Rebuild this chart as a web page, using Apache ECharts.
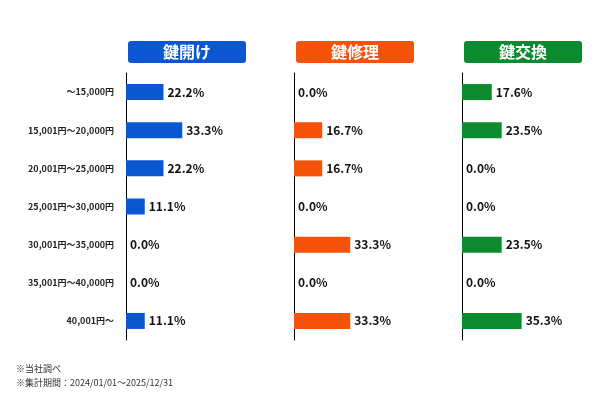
<!DOCTYPE html>
<html>
<head>
<meta charset="utf-8">
<script src="https://cdn.jsdelivr.net/npm/echarts@6/dist/echarts.min.js"></script>
<style>html,body{margin:0;padding:0;background:#fff}#c{width:600px;height:400px}</style>
</head>
<body>
<div id="c"></div>
<script>
var categories = ['～15,000円','15,001円～20,000円','20,001円～25,000円','25,001円～30,000円','30,001円～35,000円','35,001円～40,000円','40,001円～'];
var panelNames = ['鍵開け','鍵修理','鍵交換'];
var kaigiValues = [22.2, 33.3, 22.2, 11.1, 0.0, 0.0, 11.1];
var shuriValues = [0.0, 16.7, 16.7, 0.0, 33.3, 0.0, 33.3];
var koukanValues = [17.6, 23.5, 0.0, 0.0, 23.5, 0.0, 35.3];
var footnotes = ['※当社調べ', '※集計期間：2024/01/01～2025/12/31'];

var seriesValues = [kaigiValues, shuriValues, koukanValues];
var colors = ['#0b57d0', '#f5520c', '#0b8a2f'];
var FONT = '"Noto Sans CJK JP", "Noto Sans", sans-serif';
var lefts = [126, 294, 462];

var chart = echarts.init(document.getElementById('c'), null, {renderer: 'canvas'});
var grids = [], xAxes = [], yAxes = [], series = [], graphics = [];
for (var i = 0; i < 3; i++) {
  grids.push({left: lefts[i], top: 73, width: 100, height: 267, containLabel: false});
  xAxes.push({type: 'value', gridIndex: i, min: 0, max: 59.2, show: false});
  yAxes.push({
    type: 'category', gridIndex: i, data: categories, inverse: true,
    axisLine: {show: true, lineStyle: {color: '#000', width: 1}},
    axisTick: {show: false},
    axisLabel: {show: i === 0, margin: 12, fontSize: 9, fontWeight: 'bold', color: '#222', fontFamily: FONT},
    splitLine: {show: false}
  });
  series.push({
    type: 'bar', xAxisIndex: i, yAxisIndex: i, data: seriesValues[i],
    barWidth: 16, itemStyle: {color: colors[i]},
    label: {show: true, position: 'right', distance: 4, fontSize: 12, fontWeight: 'bold', color: '#111', fontFamily: FONT,
      formatter: function (p) { return p.value.toFixed(1) + '%'; }},
    silent: true, animation: false
  });
  graphics.push({
    type: 'group', left: lefts[i] + 2, top: 41,
    children: [
      {type: 'rect', shape: {x: 0, y: 0, width: 118, height: 22, r: 3}, style: {fill: colors[i]}},
      {type: 'text', x: 59, y: 11, style: {text: panelNames[i], fill: '#fff', font: 'bold 16px ' + FONT, textAlign: 'center', textVerticalAlign: 'middle'}}
    ]
  });
}
graphics.push({type: 'text', left: 16, top: 364, style: {text: footnotes[0], fill: '#333', font: '9px ' + FONT}});
graphics.push({type: 'text', left: 16, top: 378, style: {text: footnotes[1], fill: '#333', font: '9px ' + FONT}});

chart.setOption({
  animation: false,
  grid: grids, xAxis: xAxes, yAxis: yAxes, series: series, graphic: graphics
});
</script>
</body>
</html>
